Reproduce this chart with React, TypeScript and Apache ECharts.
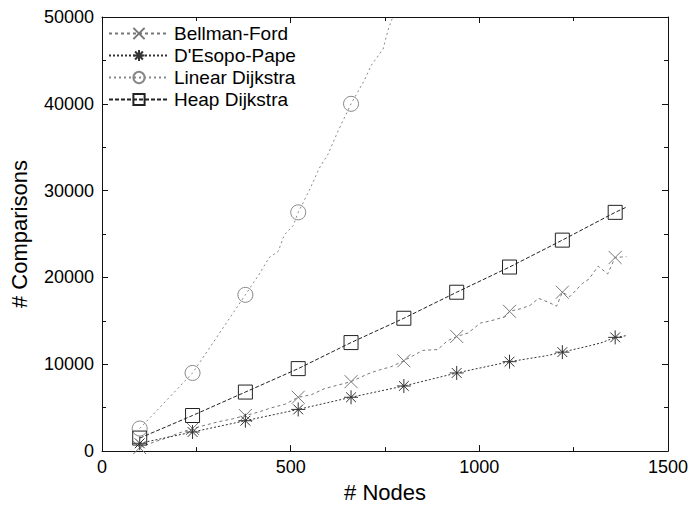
import React, { useEffect, useRef } from "react";
import * as echarts from "echarts";

const markerNodes = [100, 240, 380, 520, 660, 800, 940, 1080, 1220, 1360];

const bellmanNodes = [100, 135, 170, 205, 240, 275, 310, 345, 380, 415, 450, 485, 520, 555, 590, 625, 660, 705, 735, 765, 800, 850, 890, 915, 940, 970, 1003, 1030, 1070, 1080, 1110, 1135, 1157, 1180, 1205, 1220, 1240, 1273, 1290, 1315, 1340, 1360, 1390];
const bellmanValues = [400, 1000, 1500, 2100, 2600, 3000, 3400, 3700, 4100, 4500, 5000, 5400, 6200, 6500, 7200, 7600, 8000, 8900, 9350, 9700, 10400, 11600, 11700, 12700, 13200, 13600, 14750, 15000, 15500, 16100, 16400, 16800, 17600, 17200, 16700, 18300, 17800, 19300, 19800, 21300, 20400, 22300, 22400];

const desopoNodes = [100, 240, 380, 520, 660, 800, 940, 1080, 1180, 1220, 1294, 1325, 1360, 1390];
const desopoValues = [900, 2200, 3500, 4800, 6200, 7500, 9000, 10300, 11000, 11400, 12150, 12500, 13100, 13300];

const linearNodes = [100, 240, 380, 417, 443, 467, 483, 507, 520, 549, 576, 599, 626, 660, 694, 713, 745, 758, 800];
const linearValues = [2600, 9000, 18000, 20400, 22300, 23000, 24900, 26000, 27500, 30000, 32600, 34200, 36900, 40000, 42600, 44400, 46300, 48500, 53500];

const heapNodes = [100, 240, 380, 520, 660, 800, 940, 1080, 1220, 1360, 1390];
const heapValues = [1500, 4100, 6800, 9500, 12500, 15300, 18300, 21200, 24300, 27500, 28100];

const seriesNames = ["Bellman-Ford", "D'Esopo-Pape", "Linear Dijkstra", "Heap Dijkstra"];
const xTicks = [0, 500, 1000, 1500];
const yTicks = [0, 10000, 20000, 30000, 40000, 50000];

const FONT = "'Liberation Sans', Arial, Helvetica, sans-serif";

function build(nodes: number[], values: number[]) {
  return nodes.map((n, i) =>
    markerNodes.includes(n) ? { value: [n, values[i]] } : { value: [n, values[i]], symbol: "none" }
  );
}

export default function App() {
  const ref = useRef<HTMLDivElement>(null);
  useEffect(() => {
    document.body.style.margin = "0";
    const chart = echarts.init(ref.current!, null, { renderer: "svg" });
    const mk = (
      name: string,
      nodes: number[],
      values: number[],
      symbol: string,
      color: string,
      dash: number[],
      size: number
    ) => ({
      name,
      type: "line",
      data: build(nodes, values),
      symbol,
      symbolSize: size,
      showSymbol: true,
      clip: true,
      lineStyle: { color, width: 1, type: dash },
      itemStyle: { color: "none", borderColor: color, borderWidth: 1 },
      emphasis: { disabled: true },
    });
    const axisLine = { show: true, onZero: false, lineStyle: { color: "#111", width: 1 } };
    const tick = { inside: true, length: 6, lineStyle: { color: "#111" } };
    const minor = { show: true, splitNumber: 2, length: 4, lineStyle: { color: "#111" } };
    chart.setOption({
      animation: false,
      backgroundColor: "#fff",
      grid: { left: 100, right: 24, top: 17, bottom: 47 },
      legend: {
        left: 108,
        top: 24,
        orient: "vertical",
        padding: 0,
        itemWidth: 60,
        itemHeight: 14,
        itemGap: 3,
        textStyle: { fontFamily: FONT, fontSize: 19, color: "#000", lineHeight: 19 },
        data: seriesNames,
      },
      xAxis: [
        {
          type: "value",
          min: 0,
          max: 1500,
          interval: 500,
          name: "# Nodes",
          nameLocation: "middle",
          nameGap: 23,
          nameTextStyle: { fontFamily: FONT, fontSize: 22, color: "#000" },
          axisLine,
          axisTick: tick,
          minorTick: minor,
          splitLine: { show: false },
          axisLabel: {
            fontFamily: FONT,
            fontSize: 18,
            color: "#000",
            margin: 7,
            formatter: (v: number) => (xTicks.includes(v) ? String(v) : ""),
          },
        },
        {
          type: "value",
          position: "top",
          min: 0,
          max: 1500,
          interval: 500,
          axisLine,
          axisTick: tick,
          minorTick: minor,
          splitLine: { show: false },
          axisLabel: { show: false },
        },
      ],
      yAxis: [
        {
          type: "value",
          min: 0,
          max: 50000,
          interval: 10000,
          name: "# Comparisons",
          nameLocation: "middle",
          nameGap: 72,
          nameTextStyle: { fontFamily: FONT, fontSize: 22, color: "#000" },
          axisLine,
          axisTick: tick,
          minorTick: minor,
          splitLine: { show: false },
          axisLabel: {
            fontFamily: FONT,
            fontSize: 18,
            color: "#000",
            margin: 8,
            formatter: (v: number) => (yTicks.includes(v) ? String(v) : ""),
          },
        },
        {
          type: "value",
          position: "right",
          min: 0,
          max: 50000,
          interval: 10000,
          axisLine,
          axisTick: tick,
          minorTick: minor,
          splitLine: { show: false },
          axisLabel: { show: false },
        },
      ],
      series: [
        mk(seriesNames[0], bellmanNodes, bellmanValues, "path://M0,0L10,10M10,0L0,10", "#777", [3, 3], 13),
        mk(
          seriesNames[1],
          desopoNodes,
          desopoValues,
          "path://M5,0L5,10M0,5L10,5M1.5,1.5L8.5,8.5M8.5,1.5L1.5,8.5",
          "#333",
          [2, 2],
          14
        ),
        mk(seriesNames[2], linearNodes, linearValues, "circle", "#888", [2, 3], 15),
        mk(seriesNames[3], heapNodes, heapValues, "rect", "#222", [4, 2], 14),
      ],
    });
    return () => chart.dispose();
  }, []);
  return <div ref={ref} style={{ width: 692, height: 508 }} />;
}
